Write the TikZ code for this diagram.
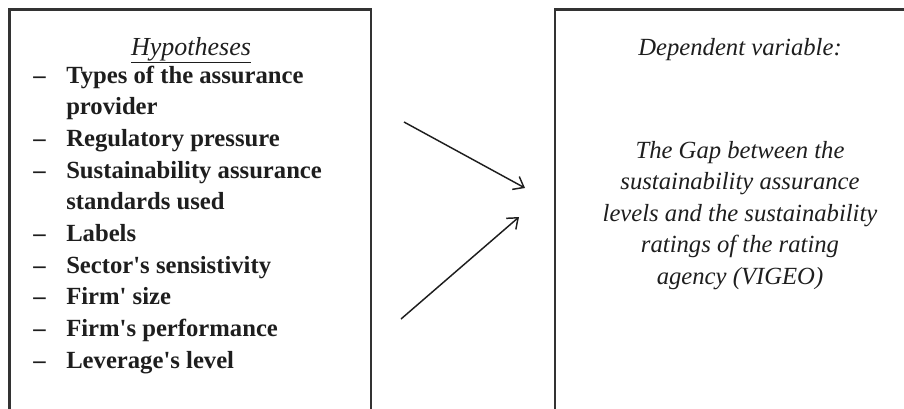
\documentclass[tikz,border=0pt]{standalone}
\usepackage{fontspec}
\newfontfamily\boxfont{Liberation Serif}
\usepackage{xcolor}
\definecolor{darkink}{RGB}{30,30,30}
\definecolor{darkframe}{RGB}{51,51,51}
\usetikzlibrary{arrows.meta}
\newcommand{\heightline}{31.7}
\newcommand{\heightgap}{31.5}
\newcommand{\widthindent}{33}
\tikzset{
    common/.style={inner sep=0pt, text=darkink, font=\boxfont\fontsize{18.5}{20}\selectfont},
    item/.style={common, anchor=base west, font=\boxfont\fontsize{18.5}{20}\selectfont\bfseries},
    heading/.style={common, anchor=base, font=\boxfont\fontsize{18.5}{20}\selectfont\itshape},
    frame/.style={draw=darkframe, line width=1.6pt},
    link/.style={-{Straight Barb[length=7pt,width=11pt]}, line width=1.1pt, draw=darkink},
}
\begin{document}
\begin{tikzpicture}[x=0.75pt, y=-0.75pt]
    \useasboundingbox (0,0) rectangle (904,408);
    \clip (0,0) rectangle (904,408);
    \draw[frame] (9.5,9.5) rectangle (371,430);
    \draw[frame] (555,9.5) rectangle (930,430);

    % left box: hypotheses
    \path (191,55) node[heading, font=\boxfont\fontsize{19.5}{20}\selectfont\itshape] (hyp) {\underline{Hypotheses}};
    \path (66,83) node[item] (types) {Types of the assurance}
        ++(0,\heightline) node[item] (provider) {provider}
        ++(0,\heightline) node[item] (regul) {Regulatory pressure}
        ++(0,\heightline) node[item] (stand) {Sustainability assurance}
        ++(0,\heightline) node[item] (used) {standards used}
        ++(0,\heightline) node[item] (labels) {Labels}
        ++(0,\heightline) node[item] (sector) {Sector's sensistivity}
        ++(0,\heightline) node[item] (size) {Firm' size}
        ++(0,\heightline) node[item] (perf) {Firm's performance}
        ++(0,\heightline) node[item] (lever) {Leverage's level};
    \foreach \n in {types, regul, stand, labels, sector, size, perf, lever}
        \node[item] at ([xshift=-\widthindent*0.75pt]\n.base west) {–};

    % right box: dependent variable
    \path (740,55) node[heading] (dep) {Dependent variable:};
    \path (740,158) node[heading] (gap1) {The Gap between the}
        ++(0,\heightgap) node[heading] (gap2) {sustainability assurance}
        ++(0,\heightgap) node[heading] (gap3) {levels and the sustainability}
        ++(0,\heightgap) node[heading] (gap4) {ratings of the rating}
        ++(0,\heightgap) node[heading] (gap5) {agency (VIGEO)};

    \coordinate (upfrom) at (404,122);
    \coordinate (upto) at (525,188);
    \coordinate (lowfrom) at (401,319);
    \coordinate (lowto) at (519,217);
    \draw[link] (upfrom) -- (upto);
    \draw[link] (lowfrom) -- (lowto);
\end{tikzpicture}
\end{document}
